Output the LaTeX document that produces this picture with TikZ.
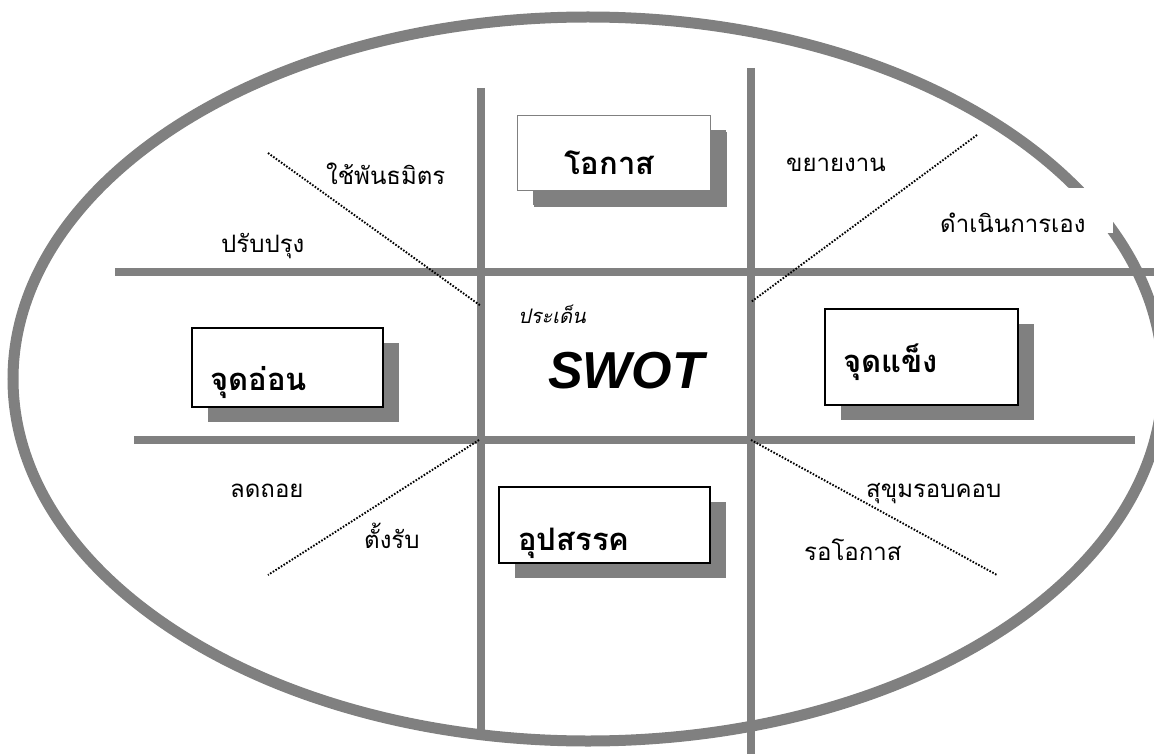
\documentclass[tikz,border=0pt]{standalone}
\usepackage{fontspec}
\setmainfont{Liberation Serif}
\newfontfamily\thai[Script=Thai]{Loma}
\newfontfamily\thaiit[Script=Thai,FakeSlant=0.22]{Loma}
\newfontfamily\arialf{Liberation Sans}
\usetikzlibrary{shadows}
\definecolor{linegray}{HTML}{808080}
\definecolor{shadowgray}{HTML}{808080}
\tikzset{
  gridline/.style={draw=linegray, line width=7.5pt},
  diagline/.style={draw=black, line width=1.9pt, dash pattern=on 1.6pt off 1.6pt},
  lbl/.style={font=\thai\fontsize{24}{26}\selectfont, anchor=base west, inner sep=0pt},
  boxlbl/.style={font=\thai\bfseries\fontsize{31}{33}\selectfont, anchor=base west, inner sep=0pt},
  swotbox/.style={draw=black, line width=1.3pt, fill=white, inner sep=0pt,
    drop shadow={shadow xshift=16pt, shadow yshift=-15pt, fill=shadowgray, opacity=1}},
}
\begin{document}
\begin{tikzpicture}[x=1pt,y=-1pt]
\useasboundingbox (0,0) rectangle (1154,754);
\clip (0,0) rectangle (1154,754);
% outer ellipse
\draw[draw=linegray, line width=11pt] (588,379) ellipse [x radius=575, y radius=362];
% grid
\coordinate (v1t) at (481,88);  \coordinate (v1b) at (481,740);
\coordinate (v2t) at (751,68);  \coordinate (v2b) at (751,760);
\coordinate (h1l) at (115,272); \coordinate (h1r) at (1160,272);
\coordinate (h2l) at (134,440); \coordinate (h2r) at (1135,440);
\draw[gridline] (v1t) -- (v1b);
\draw[gridline] (v2t) -- (v2b);
\draw[gridline] (h1l) -- (h1r);
\draw[gridline] (h2l) -- (h2r);
% diagonals
\coordinate (d1a) at (268,153); \coordinate (d1b) at (481,306);
\coordinate (d2a) at (977,135); \coordinate (d2b) at (751,302);
\coordinate (d3a) at (479,440); \coordinate (d3b) at (268,575);
\coordinate (d4a) at (751,440); \coordinate (d4b) at (997,575);
\draw[diagline] (d1a) -- (d1b);
\draw[diagline] (d2a) -- (d2b);
\draw[diagline] (d3a) -- (d3b);
\draw[diagline] (d4a) -- (d4b);
% white text box over ellipse
\node[fill=white, inner sep=0pt, anchor=base west, text width=173pt, align=left,
      text height=45pt, text depth=0pt, font=\thai\fontsize{24}{26}\selectfont]
      (own) at (940,233) {ดำเนินการเอง};
% boxes
\node[swotbox, draw=linegray, line width=0.9pt, minimum width=193pt, minimum height=75pt,
      drop shadow={shadow xshift=17pt, shadow yshift=-17pt, fill=shadowgray, opacity=1}]
      (oppbox) at (613.5,152.5) {};
\node[boxlbl] (opp) at (564,175) {โอกาส};
\node[swotbox, minimum width=191pt, minimum height=79pt] (weakbox) at (287.5,367.5) {};
\node[boxlbl] (weak) at (210,390) {จุดอ่อน};
\node[swotbox, minimum width=193pt, minimum height=96pt] (strbox) at (921.5,357) {};
\node[boxlbl] (str) at (843,372) {จุดแข็ง};
\node[swotbox, minimum width=211pt, minimum height=76pt] (thrbox) at (604.5,525) {};
\node[boxlbl] (thr) at (518,550) {อุปสรรค};
% centre
\node[anchor=base west, inner sep=0pt, font=\thaiit\fontsize{20}{22}\selectfont] (issue) at (518,323) {ประเด็น};
\node[anchor=base west, inner sep=0pt, font=\arialf\bfseries\itshape\fontsize{52}{54}\selectfont] (swot) at (548,388) {SWOT};
% labels
\node[lbl] (ally) at (326,185) {ใช้พันธมิตร};
\node[lbl] (impr) at (221,252) {ปรับปรุง};
\node[lbl] (expd) at (786,172) {ขยายงาน};
\node[lbl] (redu) at (230,497) {ลดถอย};
\node[lbl] (defn) at (364,548) {ตั้งรับ};
\node[lbl] (caut) at (866,497) {สุขุมรอบคอบ};
\node[lbl] (wait) at (804,560) {รอโอกาส};
\end{tikzpicture}
\end{document}
